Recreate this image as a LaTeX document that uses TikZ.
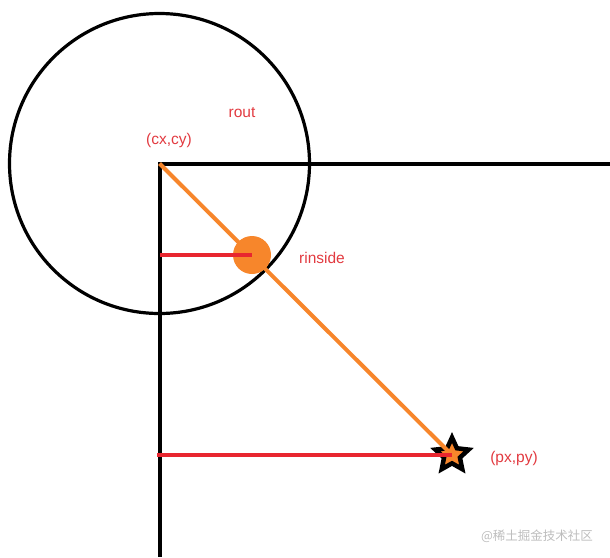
\documentclass[tikz,border=0pt]{standalone}
\usepackage{fontspec}
\setmainfont{Liberation Sans}
\newfontfamily\cjkfont{Noto Sans CJK SC}
\usetikzlibrary{shapes.geometric}
\definecolor{lorange}{HTML}{F7862B}
\definecolor{lred}{HTML}{E8262F}
\definecolor{ltext}{HTML}{E23A40}
\definecolor{lgray}{HTML}{BDBDBD}

\begin{document}
\begin{tikzpicture}[x=1pt, y=-1pt,
  lbl/.style={font=\fontsize{15.5}{18}\selectfont, text=ltext, inner sep=0pt}]
  \useasboundingbox (0,0) rectangle (610,557);

  % Outer circle (rout)
  \coordinate (c) at (159.5,163.5);
  \node[circle, draw, line width=3.2pt, minimum size=300pt, inner sep=0pt] (rout) at (c) {};

  % Axes
  \coordinate (xend) at (610,163.5);
  \coordinate (yend) at (159.5,557);
  \draw[line width=4pt] (xend) -- (c) -- (yend);

  % Point p
  \node[star, star points=5, star point ratio=2.1, minimum size=35pt, inner sep=0pt,
    draw, line width=4.5pt, fill=lorange] (p) at (452,455) {};

  % Segment c -> p and inner circle
  \draw[lorange, line width=4pt] (c) -- (p.center);
  \node[circle, fill=lorange, minimum size=38pt, inner sep=0pt] (rin) at (252,255) {};

  % Distances to the axis
  \coordinate (a1) at (160,255);
  \coordinate (a2) at (157,455);
  \draw[lred, line width=4pt] (a1) -- (rin.center);
  \draw[lred, line width=4pt] (a2) -- (p.center);

  % Labels
  \node[lbl] (lc) at (169,140) {(cx,cy)};
  \node[lbl] (lr) at (242,113) {rout};
  \node[lbl] (li) at (322,258) {rinside};
  \node[lbl] (lp) at (514,458) {(px,py)};
  \node[font=\cjkfont\fontsize{12.5}{14}\selectfont, text=lgray, inner sep=0pt] (wm) at (537,536) {@稀土掘金技术社区};
\end{tikzpicture}
\end{document}
